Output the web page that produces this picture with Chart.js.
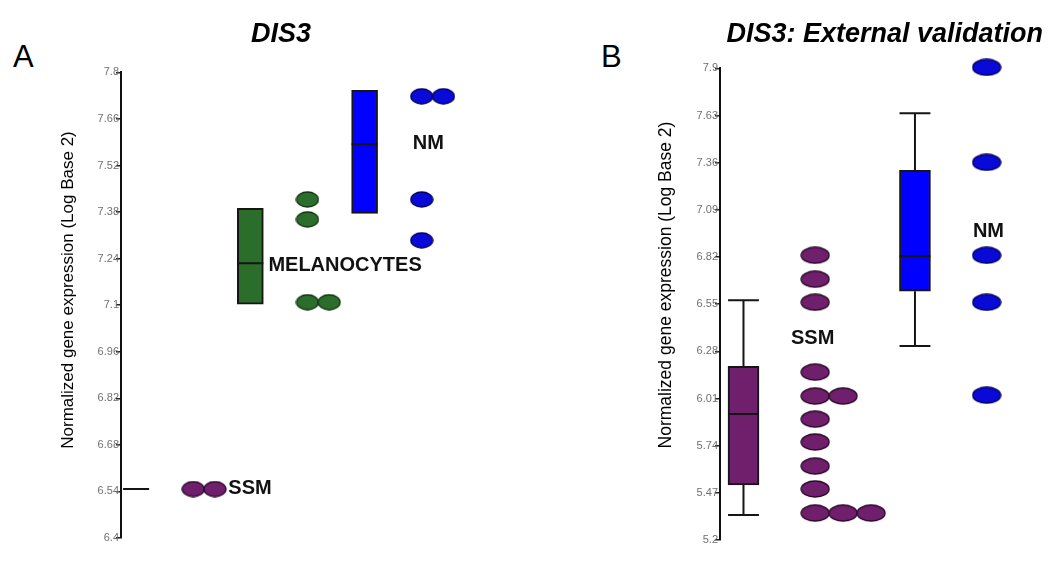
<!DOCTYPE html>
<html lang="en">
<head>
  <meta charset="UTF-8" />
  <title>DIS3 expression</title>
  <script src="https://cdn.jsdelivr.net/npm/chart.js"></script>
  <style>
    body { margin: 0; background: #fff; width: 1050px; height: 566px; position: relative; overflow: hidden; }
    .panel { position: absolute; top: 0; height: 566px; }
    .letter { position: absolute; top: 41px; font: 31px "Liberation Sans", Arial, sans-serif; line-height: 31px; color: #000; }
  </style>
</head>
<body>
  <div class="letter" style="left:13px">A</div>
  <div class="letter" style="left:601px">B</div>
  <div class="panel" style="left:0;width:562px"><canvas id="chartA" width="562" height="566"></canvas></div>
  <div class="panel" style="left:590px;width:460px"><canvas id="chartB" width="460" height="566"></canvas></div>

  <script>
    // Panel A: DIS3
    const leftGroups = ['SSM', 'MELANOCYTES', 'NM'];
    const leftDots = [
      [6.547, 6.547],
      [7.418, 7.358, 7.109, 7.109],
      [7.728, 7.728, 7.418, 7.295]
    ];
    const leftQ1 = [6.547, 7.103, 7.376];
    const leftMedian = [6.547, 7.226, 7.584];
    const leftQ3 = [6.547, 7.391, 7.746];
    const leftTicks = [6.4, 6.54, 6.68, 6.82, 6.96, 7.1, 7.24, 7.38, 7.52, 7.66, 7.8];
    const leftTickLabels = ['6.4', '6.54', '6.68', '6.82', '6.96', '7.1', '7.24', '7.38', '7.52', '7.66', '7.8'];

    // Panel B: DIS3 external validation
    const rightGroups = ['SSM', 'NM'];
    const rightDots = [
      [6.83, 6.693, 6.561, 6.161, 6.024, 6.024, 5.892, 5.761, 5.623, 5.492, 5.354, 5.354, 5.354],
      [7.906, 7.362, 6.83, 6.561, 6.029]
    ];
    const rightMin = [5.343, 6.31];
    const rightQ1 = [5.515, 6.624];
    const rightMedian = [5.921, 6.825];
    const rightQ3 = [6.195, 7.317];
    const rightMax = [6.573, 7.643];
    const rightTicks = [5.2, 5.47, 5.74, 6.01, 6.28, 6.55, 6.82, 7.09, 7.36, 7.63, 7.9];
    const rightTickLabels = ['5.2', '5.47', '5.74', '6.01', '6.28', '6.55', '6.82', '7.09', '7.36', '7.63', '7.9'];

    const yTitle = 'Normalized gene expression (Log Base 2)';

    const FONT = '"Liberation Sans", Arial, sans-serif';
    const colors = {
      SSM: { fill: '#6f1f6c', dot: '#6f1f6c', edge: '#2a0828' },
      MELANOCYTES: { fill: '#2b6e2b', dot: '#2b6e2b', edge: '#123312' },
      NM: { fill: '#0000ff', dot: '#0a0ad8', edge: '#00005a' }
    };

    // ellipse marker drawn once, used as pointStyle
    function ellipse(w, h, fill, edge) {
      const c = document.createElement('canvas');
      c.width = w + 2; c.height = h + 2;
      const g = c.getContext('2d');
      g.beginPath();
      g.ellipse(c.width / 2, c.height / 2, w / 2, h / 2, 0, 0, Math.PI * 2);
      g.fillStyle = fill; g.fill();
      g.lineWidth = 1.3; g.strokeStyle = edge; g.stroke();
      return c;
    }

    // group names next to the dots + the rotated y title
    function labelPlugin(p) {
      return {
        id: 'groupLabels',
        afterDatasetsDraw(chart) {
          const { ctx, scales } = chart;
          ctx.save();
          ctx.font = 'bold 20px ' + FONT;
          ctx.fillStyle = '#111';
          ctx.textAlign = 'left';
          ctx.textBaseline = 'middle';
          p.labels.forEach(it => {
            ctx.fillText(it.text, scales.x.getPixelForValue(it.x), scales.y.getPixelForValue(it.y));
          });

          ctx.translate(p.yTitleAt[0], p.yTitleAt[1]);
          ctx.rotate(-Math.PI / 2);
          ctx.font = p.yTitleSize + 'px ' + FONT;
          ctx.fillStyle = '#000';
          ctx.textAlign = 'center';
          ctx.textBaseline = 'middle';
          ctx.fillText(yTitle, 0, 0);
          ctx.restore();
        }
      };
    }

    function buildChart(id, p) {
      const datasets = [];

      // dots, repeated values sit side by side
      p.groups.forEach((g, i) => {
        const seen = {};
        const pts = p.dots[i].map(v => {
          const k = seen[v] || 0;
          seen[v] = k + 1;
          return { x: i + p.dotOffset + k * p.dotGap, y: v };
        });
        datasets.push({
          type: 'scatter',
          data: pts,
          pointStyle: ellipse(p.dotW, p.dotH, colors[g].dot, colors[g].edge),
          pointRadius: 8,
          clip: false,
          order: 0
        });
      });

      // boxes
      datasets.push({
        type: 'bar',
        data: p.groups.map((g, i) => ({ x: i, y: [p.q1[i], p.q3[i]] })),
        backgroundColor: p.groups.map(g => colors[g].fill),
        borderColor: '#151515',
        borderWidth: 2,
        borderSkipped: false,
        barThickness: p.boxPx,
        order: 2
      });

      // medians and whiskers as line segments
      const seg = [];
      const hw = p.boxHalf;
      p.groups.forEach((g, i) => {
        seg.push({ x: i - hw, y: p.median[i] }, { x: i + hw, y: p.median[i] }, { x: i, y: null });
        if (p.min) {
          seg.push({ x: i, y: p.q3[i] }, { x: i, y: p.max[i] }, { x: i, y: null });
          seg.push({ x: i - hw, y: p.max[i] }, { x: i + hw, y: p.max[i] }, { x: i, y: null });
          seg.push({ x: i, y: p.q1[i] }, { x: i, y: p.min[i] }, { x: i, y: null });
          seg.push({ x: i - hw, y: p.min[i] }, { x: i + hw, y: p.min[i] }, { x: i, y: null });
        }
      });
      datasets.push({
        type: 'line',
        data: seg,
        borderColor: '#151515',
        borderWidth: 2,
        pointRadius: 0,
        spanGaps: false,
        order: 1
      });

      return new Chart(document.getElementById(id), {
        type: 'bar',
        data: { datasets },
        options: {
          responsive: false,
          animation: false,
          events: [],
          layout: { padding: p.padding },
          scales: {
            x: { type: 'linear', display: false, offset: false, min: p.xMin, max: p.xMax },
            y: {
              type: 'linear',
              min: p.ticks[0],
              max: p.ticks[p.ticks.length - 1],
              afterBuildTicks: s => { s.ticks = p.ticks.map(v => ({ value: v })); },
              afterFit: s => { s.width = p.axisWidth; },
              ticks: {
                autoSkip: false,
                padding: -3,
                color: '#707070',
                font: { family: FONT, size: 11 },
                callback: (v, i) => p.tickLabels[i]
              },
              grid: { drawOnChartArea: false, tickLength: 5, color: '#222', lineWidth: 1.5 },
              border: { display: true, color: '#111', width: 2 }
            }
          },
          plugins: {
            legend: { display: false },
            tooltip: { enabled: false },
            title: {
              display: true,
              text: p.title,
              align: p.titleAlign,
              color: '#000',
              font: { family: FONT, size: 27, weight: 'bold', style: 'italic' },
              padding: p.titlePad
            }
          }
        },
        plugins: [labelPlugin(p)]
      });
    }

    buildChart('chartA', {
      groups: leftGroups, dots: leftDots, q1: leftQ1, median: leftMedian, q3: leftQ3,
      ticks: leftTicks, tickLabels: leftTickLabels,
      title: 'DIS3', titleAlign: 'center', titlePad: { top: 18, bottom: 22 },
      padding: { left: 0, right: 0, top: 0, bottom: 28 },
      axisWidth: 121, yTitleAt: [68, 290], yTitleSize: 17,
      xMin: -0.132, xMax: 3.649,
      dotOffset: 0.5, dotGap: 0.19, dotW: 22, dotH: 15,
      boxPx: 26, boxHalf: 0.114,
      labels: [
        { text: 'SSM', x: 0.807, y: 6.55 },
        { text: 'MELANOCYTES', x: 1.158, y: 7.22 },
        { text: 'NM', x: 2.421, y: 7.587 }
      ]
    });

    buildChart('chartB', {
      groups: rightGroups, dots: rightDots, q1: rightQ1, median: rightMedian, q3: rightQ3,
      min: rightMin, max: rightMax,
      ticks: rightTicks, tickLabels: rightTickLabels,
      title: 'DIS3: External validation', titleAlign: 'end', titlePad: { top: 18, bottom: 18 },
      padding: { left: 0, right: 7, top: 0, bottom: 26 },
      axisWidth: 130, yTitleAt: [76, 285], yTitleSize: 17.5,
      xMin: -0.137, xMax: 1.735,
      dotOffset: 0.418, dotGap: 0.163, dotW: 28, dotH: 16,
      boxPx: 31, boxHalf: 0.09,
      labels: [
        { text: 'SSM', x: 0.277, y: 6.356 },
        { text: 'NM', x: 1.338, y: 6.968 }
      ]
    });
  </script>
</body>
</html>
